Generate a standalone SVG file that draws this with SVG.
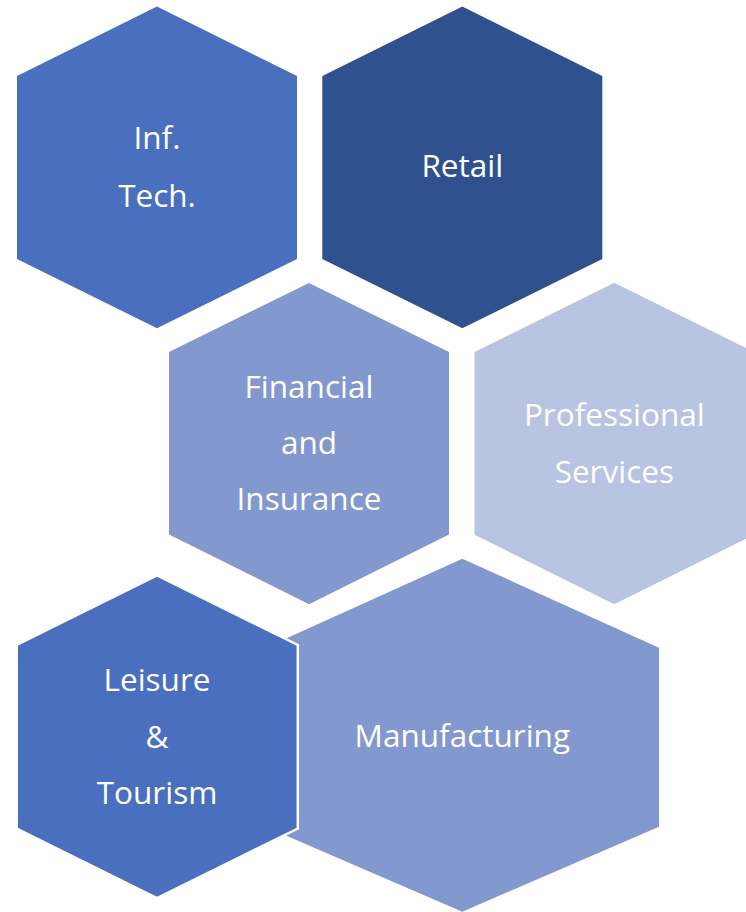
<svg xmlns="http://www.w3.org/2000/svg" width="746" height="912" viewBox="0 0 746 912">
  <style>
    .lbl { font-family: "Open Sans", Lato, "Liberation Sans", sans-serif; font-size: 31.5px; fill: #ffffff; text-anchor: middle; }
    .c1 { fill: #4A6FBE; }
    .c2 { fill: #2F528F; }
    .c3 { fill: #8298CF; }
    .c4 { fill: #B9C4E2; }
    .edge { stroke: #ffffff; stroke-width: 2.5; }
  </style>
  <rect width="746" height="912" fill="#ffffff"/>
  <g id="connectors"></g>
  <g id="node-inftech">
    <polygon class="c1" points="157,6.5 297,76 297,259 157,328.3 17,259 17,76"/>
    <text class="lbl" x="157" y="149">Inf.</text>
    <text class="lbl" x="157" y="206.5">Tech.</text>
  </g>
  <g id="node-retail">
    <polygon class="c2" points="462.3,6.5 602.3,76 602.3,259 462.3,328.3 322.3,259 322.3,76"/>
    <text class="lbl" x="462.3" y="177.3">Retail</text>
  </g>
  <g id="node-financial">
    <polygon class="c3" points="309,283 449,352 449,534.5 309,604.2 169,534.5 169,352"/>
    <text class="lbl" x="309" y="397.5">Financial</text>
    <text class="lbl" x="309" y="454">and</text>
    <text class="lbl" x="309" y="510">Insurance</text>
  </g>
  <g id="node-professional">
    <polygon class="c4" points="614.3,282.7 754.3,352 754.3,534.7 614.3,604.3 474.5,534.7 474.5,352"/>
    <text class="lbl" x="614.3" y="425.5">Professional</text>
    <text class="lbl" x="614.3" y="482.5">Services</text>
  </g>
  <g id="node-manufacturing">
    <polygon class="c3" points="462.3,558.7 659,647.7 659,826.7 462.3,911.7 265.6,826.7 265.6,647.7"/>
    <text class="lbl" x="462.3" y="747">Manufacturing</text>
  </g>
  <g id="node-leisure">
    <polygon class="c1 edge" points="157,575.5 297.8,645 297.8,828.5 157,898.2 16.7,828.5 16.7,645"/>
    <text class="lbl" x="157" y="691">Leisure</text>
    <text class="lbl" x="157" y="747.5">&amp;</text>
    <text class="lbl" x="157" y="803.5">Tourism</text>
  </g>
</svg>
